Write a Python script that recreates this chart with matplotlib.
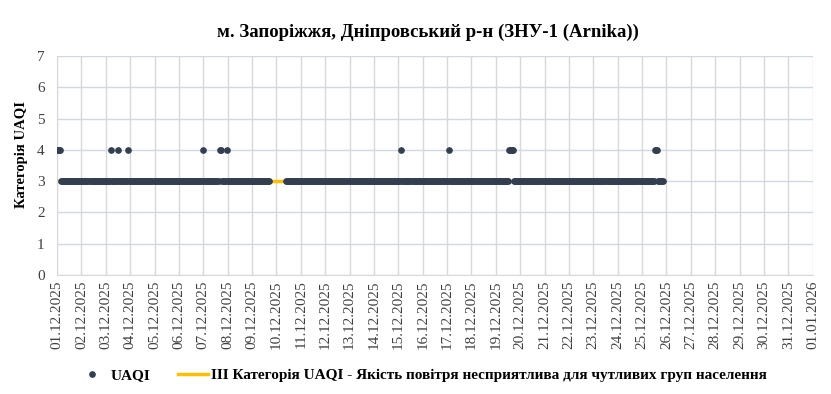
import numpy as np
import pandas as pd
import matplotlib
matplotlib.use("Agg")
import matplotlib.pyplot as plt

plt.rcParams['font.family'] = ['Liberation Serif', 'DejaVu Serif']

title = "м. Запоріжжя, Дніпровський р-н (ЗНУ-1 (Arnika))"
ylabel = "Категорія UAQI"
series_name = "UAQI"
line_name = "III Категорія UAQI - Якість повітря несприятлива для чутливих груп населення"

# hourly readings from 01.12.2025 00:00
n_hours = 598                      # last reading ~25.12 21:00
base_category = 3
line_category = 3
elevated_hours = [0, 1, 2, 3, 53, 60, 70, 144, 160, 161, 167,
                  339, 386, 445, 446, 447, 448, 449, 589, 590, 591]
missing_hours = list(range(210, 225)) + [571]

tick_labels = [d.strftime("%d.%m.%Y") for d in pd.date_range("2025-12-01", "2026-01-01", freq="D")]

hours = np.arange(n_hours)
uaqi = np.full(n_hours, float(base_category))
uaqi[elevated_hours] = 4
uaqi[missing_hours] = np.nan
days = hours / 24.0

fig = plt.figure(figsize=(8.31, 3.94), dpi=100)
ax = fig.add_axes([0.0686, 0.302, 0.9094, 0.556])

ax.plot([days[0], days[-1]], [line_category, line_category], color="#ffc000", lw=2.5, zorder=2,
        label=line_name)
ax.plot(days, uaqi, linestyle="none", marker="o", ms=3.8, color="#333f50", mec="#333f50",
        zorder=3, label=series_name)

ax.set_xlim(0, len(tick_labels) - 1)
ax.set_ylim(0, 7)
ax.set_xticks(np.arange(len(tick_labels)))
ax.set_xticklabels(tick_labels, rotation=90, fontsize=11, color="#404040")
ax.set_yticks(range(8))
ax.tick_params(axis="y", labelsize=11, colors="#404040", length=0, pad=9)
ax.tick_params(axis="x", length=0, pad=4)

ax.grid(axis="y", color="#d0d7e5", lw=1)
ax.grid(axis="x", color="#d9d9d9", lw=1)
ax.set_axisbelow(True)
for s in ["top", "right"]:
    ax.spines[s].set_visible(False)
ax.spines["left"].set_color("#d9d9d9")
ax.spines["bottom"].set_color("#d9d9d9")

ax.set_ylabel(ylabel, fontsize=10.5, fontweight="bold", labelpad=8)
ax.yaxis.set_label_coords(-0.038, 0.55)
fig.text(0.515, 0.919, title, ha="center", va="center", fontsize=13.5, fontweight="bold")

h, l = ax.get_legend_handles_labels()
leg = fig.legend(h[::-1], l[::-1], loc="center", bbox_to_anchor=(0.508, 0.047), ncol=2, frameon=False,
                 prop={"weight": "bold", "size": 11}, handlelength=2.0, columnspacing=1.8,
                 handletextpad=0.2)

fig.savefig("out.png", dpi=100)
